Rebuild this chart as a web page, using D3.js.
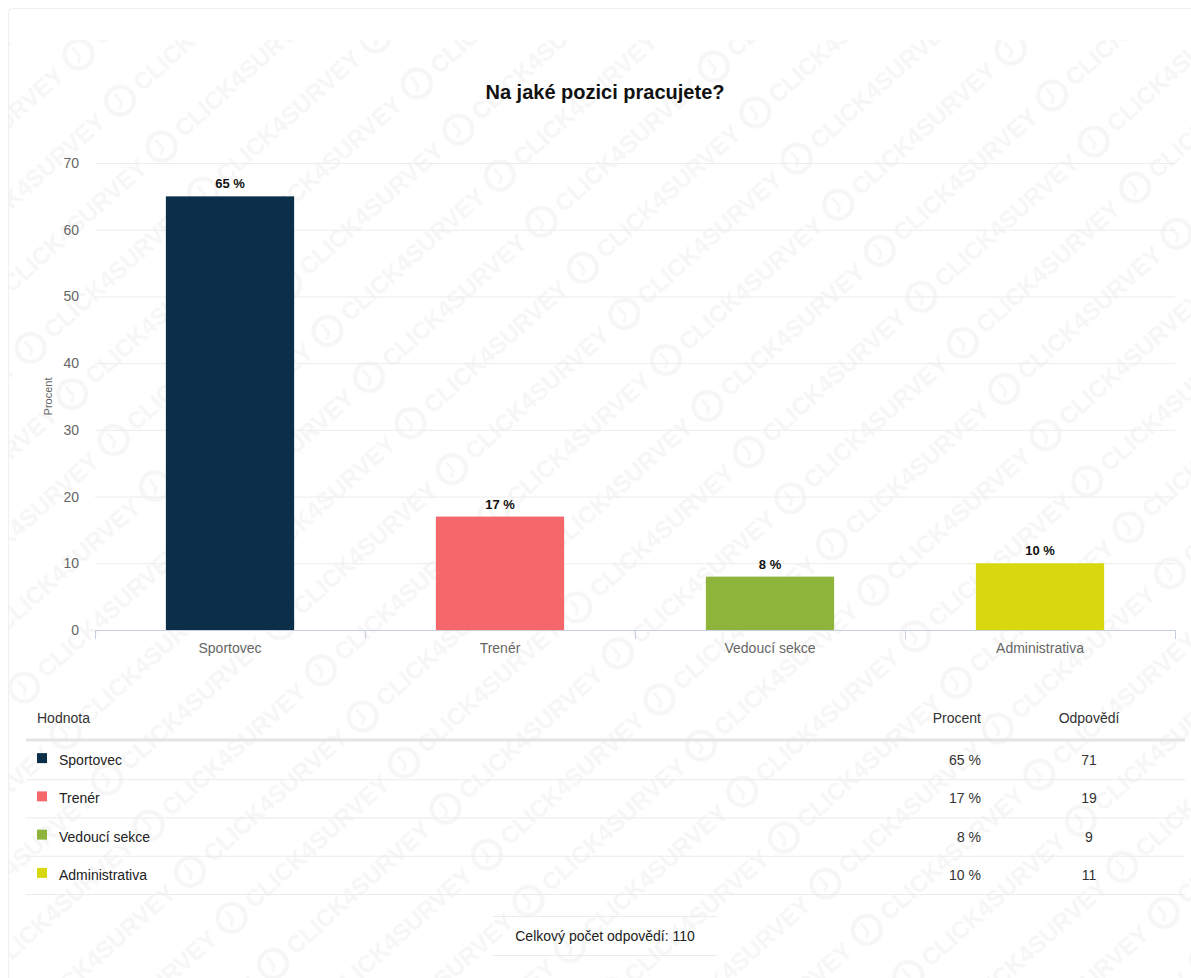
<!DOCTYPE html>
<html>
  <head>
    <script src="https://cdnjs.cloudflare.com/ajax/libs/d3/7.8.5/d3.min.js"></script>
    <style type="text/css">
      body {
        margin: 0;
        padding: 0;
        background: #fff;
        font-family: "Liberation Sans", Arial, sans-serif;
      }
      #chart {
        width: 1191px;
        height: 978px;
      }
    </style>
  </head>
  <body>
    <div id="chart"></div>
    <script type="text/javascript">
    const title = 'Na jaké pozici pracujete?';
    const categories = ['Sportovec', 'Trenér', 'Vedoucí sekce', 'Administrativa'];
    const percents = [65, 17, 8, 10];
    const counts = [71, 19, 9, 11];
    const colors = ['#0b2f48', '#f4676a', '#8fb43c', '#d7d90e'];
    const yTicks = [0, 10, 20, 30, 40, 50, 60, 70];
    const totalLabel = 'Celkový počet odpovědí: 110';

    const rows = categories.map((c, i) => ({ name: c, pct: percents[i], count: counts[i], color: colors[i] }));
    const font = '"Liberation Sans", Arial, sans-serif';

    const svg = d3.select('#chart')
      .append('svg')
      .attr('width', 1191)
      .attr('height', 978);

    // watermark pattern
    const defs = svg.append('defs');
    const pat = defs.append('pattern')
      .attr('id', 'wm')
      .attr('patternUnits', 'userSpaceOnUse')
      .attr('width', 232)
      .attr('height', 62)
      .attr('patternTransform', 'rotate(-42)');
    pat.append('circle')
      .attr('cx', 22).attr('cy', 31).attr('r', 14)
      .attr('fill', 'none').attr('stroke', '#000').attr('stroke-width', 4).attr('opacity', 0.035);
    pat.append('path')
      .attr('d', 'M22,22 L22,33 L16,37')
      .attr('fill', 'none').attr('stroke', '#000').attr('stroke-width', 2.5).attr('opacity', 0.035);
    pat.append('text')
      .attr('x', 44).attr('y', 40)
      .attr('font-size', 24).attr('font-weight', 'bold')
      .attr('fill', '#000').attr('opacity', 0.035)
      .text('CLICK4SURVEY');

    svg.append('rect')
      .attr('x', 8.5).attr('y', 8.5).attr('width', 1190).attr('height', 980)
      .attr('rx', 4)
      .attr('fill', '#fff').attr('stroke', '#f0f0f0');
    svg.append('rect')
      .attr('x', 9).attr('y', 40).attr('width', 1182).attr('height', 938)
      .attr('fill', 'url(#wm)');

    svg.append('text')
      .attr('x', 605).attr('y', 99)
      .attr('text-anchor', 'middle')
      .attr('font-size', 20).attr('font-weight', 'bold')
      .attr('fill', '#111')
      .text(title);

    // chart
    const left = 95, right = 1175;
    const y = d3.scaleLinear().domain([0, 70]).range([630, 163]);
    const x = d3.scaleBand().domain(categories).range([left, right])
      .paddingInner(0.525).paddingOuter(0.2625);

    svg.append('g')
      .selectAll('line')
      .data(yTicks.filter(d => d > 0))
      .enter()
      .append('line')
      .attr('x1', left).attr('x2', right)
      .attr('y1', d => y(d) + 0.5).attr('y2', d => y(d) + 0.5)
      .attr('stroke', '#ececec');

    const yAxis = svg.append('g')
      .attr('transform', 'translate(79,0)')
      .call(d3.axisLeft(y).tickValues(yTicks).tickSize(0).tickPadding(0));
    yAxis.select('.domain').remove();
    yAxis.selectAll('text')
      .attr('font-family', font)
      .attr('font-size', 14).attr('fill', '#666');

    svg.append('text')
      .attr('transform', `translate(52,${y(35)}) rotate(-90)`)
      .attr('text-anchor', 'middle')
      .attr('font-size', 11).attr('fill', '#666')
      .text('Procent');

    svg.append('g')
      .selectAll('rect')
      .data(rows)
      .enter()
      .append('rect')
      .attr('x', d => x(d.name))
      .attr('width', x.bandwidth())
      .attr('y', d => y(d.pct))
      .attr('height', d => y(0) - y(d.pct))
      .attr('fill', d => d.color);

    svg.append('g')
      .selectAll('text')
      .data(rows)
      .enter()
      .append('text')
      .attr('x', d => x(d.name) + x.bandwidth() / 2)
      .attr('y', d => y(d.pct) - 8)
      .attr('text-anchor', 'middle')
      .attr('font-size', 13).attr('font-weight', 'bold')
      .attr('fill', '#111')
      .text(d => `${d.pct} %`);

    // x axis
    const xAxis = svg.append('g')
      .attr('transform', `translate(0,${y(0)})`)
      .call(d3.axisBottom(x).tickSize(0).tickPadding(13));
    xAxis.select('.domain').remove();
    xAxis.selectAll('text')
      .attr('font-family', font)
      .attr('font-size', 14).attr('fill', '#666');
    xAxis.append('line')
      .attr('x1', left).attr('x2', right)
      .attr('y1', 0.5).attr('y2', 0.5)
      .attr('stroke', '#c8d0dc');
    xAxis.selectAll('.band-tick')
      .data(d3.range(categories.length + 1))
      .enter()
      .append('line')
      .attr('class', 'band-tick')
      .attr('x1', i => left + i * x.step() + 0.5)
      .attr('x2', i => left + i * x.step() + 0.5)
      .attr('y1', 0).attr('y2', 9)
      .attr('stroke', '#c8d0dc');

    // table
    const tableLeft = 26, tableRight = 1185;
    const rowY = d3.scaleBand().domain(categories).range([741, 894]);
    const head = svg.append('g').attr('font-size', 14).attr('fill', '#333');
    head.append('text').attr('x', 37).attr('y', 723).text('Hodnota');
    head.append('text').attr('x', 981).attr('y', 723).attr('text-anchor', 'end').text('Procent');
    head.append('text').attr('x', 1089).attr('y', 723).attr('text-anchor', 'middle').text('Odpovědí');
    svg.append('line')
      .attr('x1', tableLeft).attr('x2', tableRight)
      .attr('y1', 740).attr('y2', 740)
      .attr('stroke', '#e4e4e4').attr('stroke-width', 3);

    const row = svg.append('g')
      .selectAll('g')
      .data(rows)
      .enter()
      .append('g')
      .attr('transform', d => `translate(0,${rowY(d.name)})`);
    row.append('rect')
      .attr('x', 37).attr('y', rowY.bandwidth() / 2 - 7)
      .attr('width', 10).attr('height', 10)
      .attr('fill', d => d.color);
    row.append('text')
      .attr('x', 59).attr('y', rowY.bandwidth() / 2 + 5)
      .attr('font-size', 14).attr('fill', '#222')
      .text(d => d.name);
    row.append('text')
      .attr('x', 981).attr('y', rowY.bandwidth() / 2 + 5)
      .attr('text-anchor', 'end')
      .attr('font-size', 14).attr('fill', '#333')
      .text(d => `${d.pct} %`);
    row.append('text')
      .attr('x', 1089).attr('y', rowY.bandwidth() / 2 + 5)
      .attr('text-anchor', 'middle')
      .attr('font-size', 14).attr('fill', '#333')
      .text(d => d.count);
    row.append('line')
      .attr('x1', tableLeft).attr('x2', tableRight)
      .attr('y1', rowY.bandwidth() + 0.5).attr('y2', rowY.bandwidth() + 0.5)
      .attr('stroke', '#ebebeb');

    // total
    svg.append('line')
      .attr('x1', 493).attr('x2', 717).attr('y1', 916.5).attr('y2', 916.5)
      .attr('stroke', '#ebebeb');
    svg.append('line')
      .attr('x1', 493).attr('x2', 717).attr('y1', 955.5).attr('y2', 955.5)
      .attr('stroke', '#ebebeb');
    svg.append('text')
      .attr('x', 605).attr('y', 941)
      .attr('text-anchor', 'middle')
      .attr('font-size', 14).attr('fill', '#222')
      .text(totalLabel);
    </script>
  </body>
</html>
